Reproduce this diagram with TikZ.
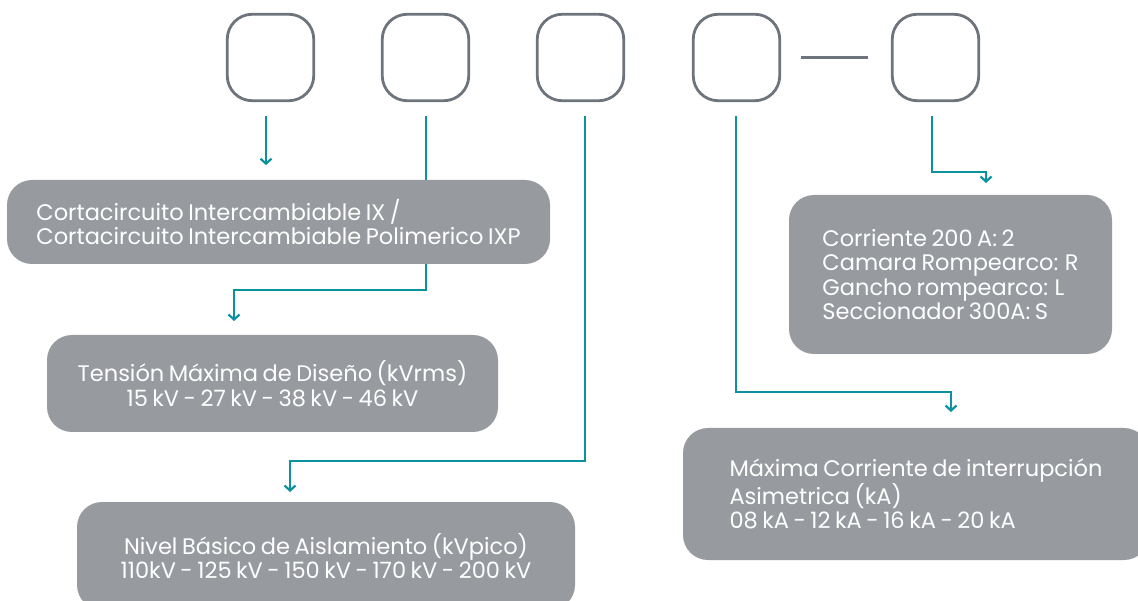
\documentclass[tikz,border=0pt]{standalone}
\usepackage{fontspec}
\setmainfont{Poppins}[WordSpace=0.75]
\usetikzlibrary{arrows.meta}
\definecolor{slotgray}{HTML}{6E747B}
\definecolor{cardgray}{HTML}{979BA0}
\definecolor{leadteal}{HTML}{0A939E}
\pgfdeclarelayer{back}
\pgfsetlayers{back,main}
\tikzset{
  slot/.style={draw=slotgray,line width=2.8pt,rounded corners=25pt,minimum width=86.5pt,minimum height=86.5pt},
  card/.style={fill=cardgray,rounded corners=25pt,text=white,inner sep=0pt,
    font=\fontsize{22.5}{24.5}\selectfont},
  lead/.style={draw=leadteal,line width=2.7pt,-{Straight Barb[length=5pt,width=11pt,line width=2.2pt]}}
}
\begin{document}
\begin{tikzpicture}[x=1pt,y=-1pt]
\useasboundingbox (0,0) rectangle (1138,601);
% code slots
\node[slot] (c1) at (270.5,57.5) {};
\node[slot] (c2) at (425.5,57.5) {};
\node[slot] (c3) at (580.5,57.5) {};
\node[slot] (c4) at (736.5,57.5) {};
\node[slot] (c5) at (935.5,57.5) {};
\draw [draw=slotgray,line width=2.8pt] ([xshift=20pt]c4.east)-- ([xshift=-23pt]c5.west);
% descriptions
\node[card,minimum width=543pt,minimum height=84pt,align=left] (tipo) at (278.5,222)
  {Cortacircuito Intercambiable IX /\\Cortacircuito Intercambiable Polimerico IXP};
\node[card,minimum width=451pt,minimum height=97pt,align=center] (tension) at (272.5,383.5)
  {Tensión Máxima de Diseño (kVrms)\\15 kV - 27 kV - 38 kV - 46 kV};
\node[card,minimum width=498pt,minimum height=108pt,align=center] (bil) at (326,556)
  {Nivel Básico de Aislamiento (kVpico)\\110kV - 125 kV - 150 kV - 170 kV - 200 kV};
\node[card,minimum width=323pt,minimum height=159pt,align=left] (opcion) at (950.5,274.5)
  {Corriente 200 A: 2\\Camara Rompearco: R\\Gancho rompearco: L\\Seccionador 300A: S};
\node[card,minimum width=466pt,minimum height=132pt,align=left] (corriente) at (916,494)
  {Máxima Corriente de interrupción\\Asimetrica (kA)\\08 kA - 12 kA - 16 kA - 20 kA};
% leads
\coordinate (k2) at (234,290);
\coordinate (k3) at (290,461);
\coordinate (k4) at (951,392);
\coordinate (k5) at (986,172);
\begin{pgfonlayer}{back}
\draw [lead] ([xshift=-4.5pt,yshift=-14pt]c1.south)-- ++(0,49);
\draw [lead] ([xshift=0.5pt,yshift=-14pt]c2.south) |- (k2)-- ++(0,31);
\draw [lead] ([xshift=4.5pt,yshift=-14pt]c3.south) |- (k3)-- ++(0,31);
\draw [lead] ([xshift=-0.5pt,yshift=-14pt]c4.south) |- (k4)-- ++(0,20);
\draw [lead] ([xshift=-3.5pt,yshift=-14pt]c5.south) |- (k5)-- ++(0,11);
\end{pgfonlayer}
\end{tikzpicture}
\end{document}
